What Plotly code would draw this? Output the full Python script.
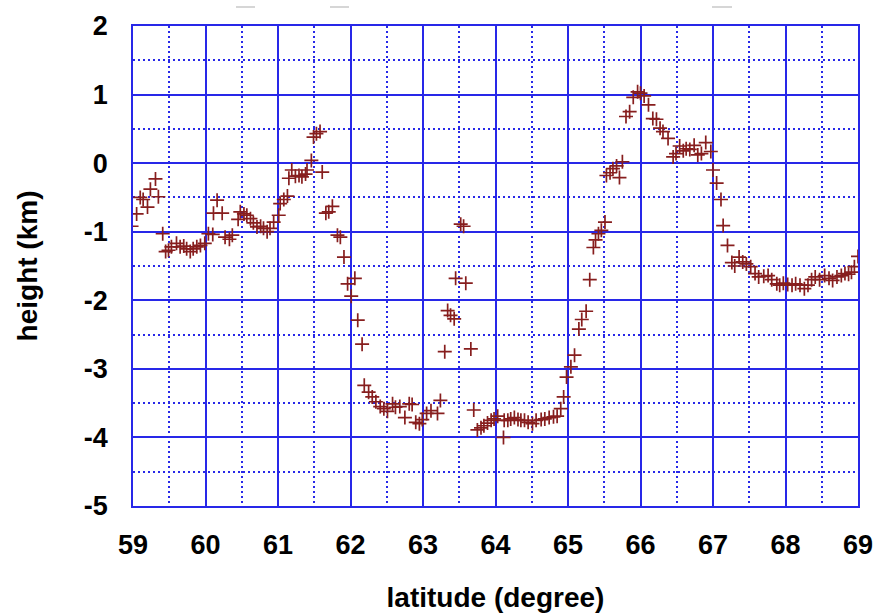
import plotly.graph_objects as go

# Measured profile: latitude (degree) and height (km)
latitude = [
    58.98, 59.05, 59.10, 59.14, 59.20, 59.24, 59.31, 59.35, 59.41, 59.45,
    59.49, 59.53, 59.60, 59.65, 59.70, 59.74, 59.79, 59.83, 59.88, 59.93,
    59.99, 60.04, 60.10, 60.11, 60.16, 60.23, 60.27, 60.33, 60.37, 60.45,
    60.48, 60.53, 60.57, 60.62, 60.66, 60.71, 60.76, 60.80, 60.85, 60.89,
    60.94, 61.01, 61.03, 61.08, 61.13, 61.15, 61.19, 61.24, 61.29, 61.33,
    61.38, 61.40, 61.46, 61.49, 61.53, 61.58, 61.61, 61.66, 61.70, 61.75,
    61.82, 61.86, 61.91, 61.96, 62.01, 62.06, 62.10, 62.16, 62.19, 62.25,
    62.30, 62.35, 62.41, 62.46, 62.51, 62.58, 62.62, 62.68, 62.75, 62.81,
    62.85, 62.90, 62.95, 62.99, 63.05, 63.11, 63.20, 63.24, 63.30, 63.34,
    63.38, 63.43, 63.45, 63.52, 63.56, 63.59, 63.66, 63.70, 63.75, 63.80,
    63.84, 63.89, 63.94, 63.98, 64.03, 64.11, 64.12, 64.17, 64.21, 64.26,
    64.31, 64.35, 64.40, 64.45, 64.51, 64.56, 64.63, 64.68, 64.74, 64.80,
    64.85, 64.90, 64.94, 64.98, 65.04, 65.09, 65.15, 65.19, 65.25, 65.30,
    65.35, 65.38, 65.42, 65.46, 65.51, 65.53, 65.58, 65.62, 65.67, 65.71,
    65.75, 65.80, 65.85, 65.90, 65.96, 66.00, 66.05, 66.11, 66.17, 66.22,
    66.27, 66.31, 66.38, 66.45, 66.49, 66.54, 66.59, 66.63, 66.68, 66.74,
    66.79, 66.84, 66.90, 66.97, 67.00, 67.05, 67.11, 67.14, 67.20, 67.26,
    67.30, 67.36, 67.41, 67.46, 67.52, 67.58, 67.63, 67.70, 67.76, 67.81,
    67.88, 67.92, 67.97, 68.03, 68.09, 68.14, 68.20, 68.26, 68.31, 68.36,
    68.41, 68.47, 68.54, 68.60, 68.65, 68.71, 68.77, 68.82, 68.87, 68.91,
    68.95, 69.00,
]
height = [
    -0.92, -0.74, -0.50, -0.53, -0.64, -0.38, -0.23, -0.49, -1.03, -1.29,
    -1.27, -1.22, -1.17, -1.22, -1.21, -1.25, -1.29, -1.25, -1.22, -1.20,
    -1.17, -1.03, -1.04, -0.73, -0.54, -0.73, -1.08, -1.11, -1.05, -0.82,
    -0.71, -0.74, -0.76, -0.81, -0.87, -0.93, -0.92, -0.95, -1.00, -0.95,
    -0.86, -0.76, -0.59, -0.53, -0.48, -0.22, -0.10, -0.19, -0.18, -0.20,
    -0.16, -0.10, 0.04, 0.38, 0.43, 0.46, -0.13, -0.73, -0.71, -0.63,
    -1.05, -1.08, -1.37, -1.76, -1.94, -1.68, -2.29, -2.64, -3.24, -3.34,
    -3.41, -3.48, -3.55, -3.58, -3.62, -3.51, -3.56, -3.55, -3.71, -3.51,
    -3.52, -3.78, -3.80, -3.74, -3.65, -3.61, -3.65, -3.46, -2.75, -2.15,
    -2.22, -2.27, -1.68, -0.89, -0.92, -1.75, -2.71, -3.60, -3.89, -3.86,
    -3.83, -3.79, -3.75, -3.73, -3.69, -4.00, -3.75, -3.75, -3.73, -3.71,
    -3.74, -3.75, -3.75, -3.78, -3.80, -3.75, -3.74, -3.73, -3.71, -3.70,
    -3.69, -3.58, -3.41, -3.12, -2.97, -2.80, -2.42, -2.28, -2.16, -1.70,
    -1.23, -1.12, -1.03, -0.98, -0.86, -0.18, -0.14, -0.08, -0.04, -0.21,
    0.02, 0.68, 0.75, 0.96, 1.04, 1.02, 0.98, 0.85, 0.65, 0.64,
    0.51, 0.46, 0.36, 0.09, 0.14, 0.25, 0.18, 0.21, 0.20, 0.26,
    0.12, 0.14, 0.30, 0.17, -0.10, -0.29, -0.53, -0.91, -1.20, -1.45,
    -1.50, -1.37, -1.44, -1.47, -1.51, -1.61, -1.66, -1.65, -1.64, -1.70,
    -1.76, -1.78, -1.75, -1.77, -1.78, -1.76, -1.78, -1.83, -1.78, -1.70,
    -1.66, -1.70, -1.64, -1.68, -1.71, -1.66, -1.64, -1.61, -1.62, -1.59,
    -1.51, -1.36,
]

x_ticks = list(range(59, 70))
y_ticks = list(range(-5, 3))

GRID = "rgb(40,40,232)"
FONT = "Liberation Sans, Arial, sans-serif"

fig = go.Figure()
fig.add_trace(go.Scatter(
    x=latitude, y=height, mode="markers",
    marker=dict(symbol="cross-thin", size=10,
                line=dict(color="rgb(135,30,30)", width=1.7)),
    showlegend=False, hoverinfo="x+y",
))

axis_common = dict(
    showgrid=True, gridcolor=GRID, gridwidth=1.8,
    showline=True, linecolor=GRID, linewidth=1.8, mirror=True,
    zeroline=False, ticks="", ticklen=0, automargin=False,
    tickfont=dict(family=FONT, size=27, color="black", weight="bold"),
    title_font=dict(family=FONT, size=28, color="black", weight="bold"),
)
minor_grid = dict(dtick=0.5, showgrid=True, gridcolor=GRID,
                  gridwidth=2, griddash="2px,3px")

fig.update_xaxes(
    range=[59, 69], tickvals=x_ticks, ticktext=[str(v) for v in x_ticks],
    ticklabelstandoff=14,
    title_text="latitude (degree)", title_standoff=28,
    minor=minor_grid, **axis_common,
)
fig.update_yaxes(
    range=[-5, 2], tickvals=y_ticks, ticktext=[str(v) for v in y_ticks],
    ticklabelstandoff=18,
    title_text="height (km)", title_standoff=38,
    minor=minor_grid, **axis_common,
)

# small gray marks along the top edge
for x0, x1 in [(236, 255), (330, 349), (712, 732)]:
    fig.add_shape(type="line", xref="paper", yref="paper",
                  x0=(x0 - 133) / 725, x1=(x1 - 133) / 725,
                  y0=(506 - 7) / 480, y1=(506 - 7) / 480,
                  line=dict(color="rgb(200,200,200)", width=1.5))

fig.update_layout(
    width=877, height=614,
    margin=dict(l=133, r=19, t=26, b=108),
    paper_bgcolor="white", plot_bgcolor="white",
)

fig.write_html("out.html")
